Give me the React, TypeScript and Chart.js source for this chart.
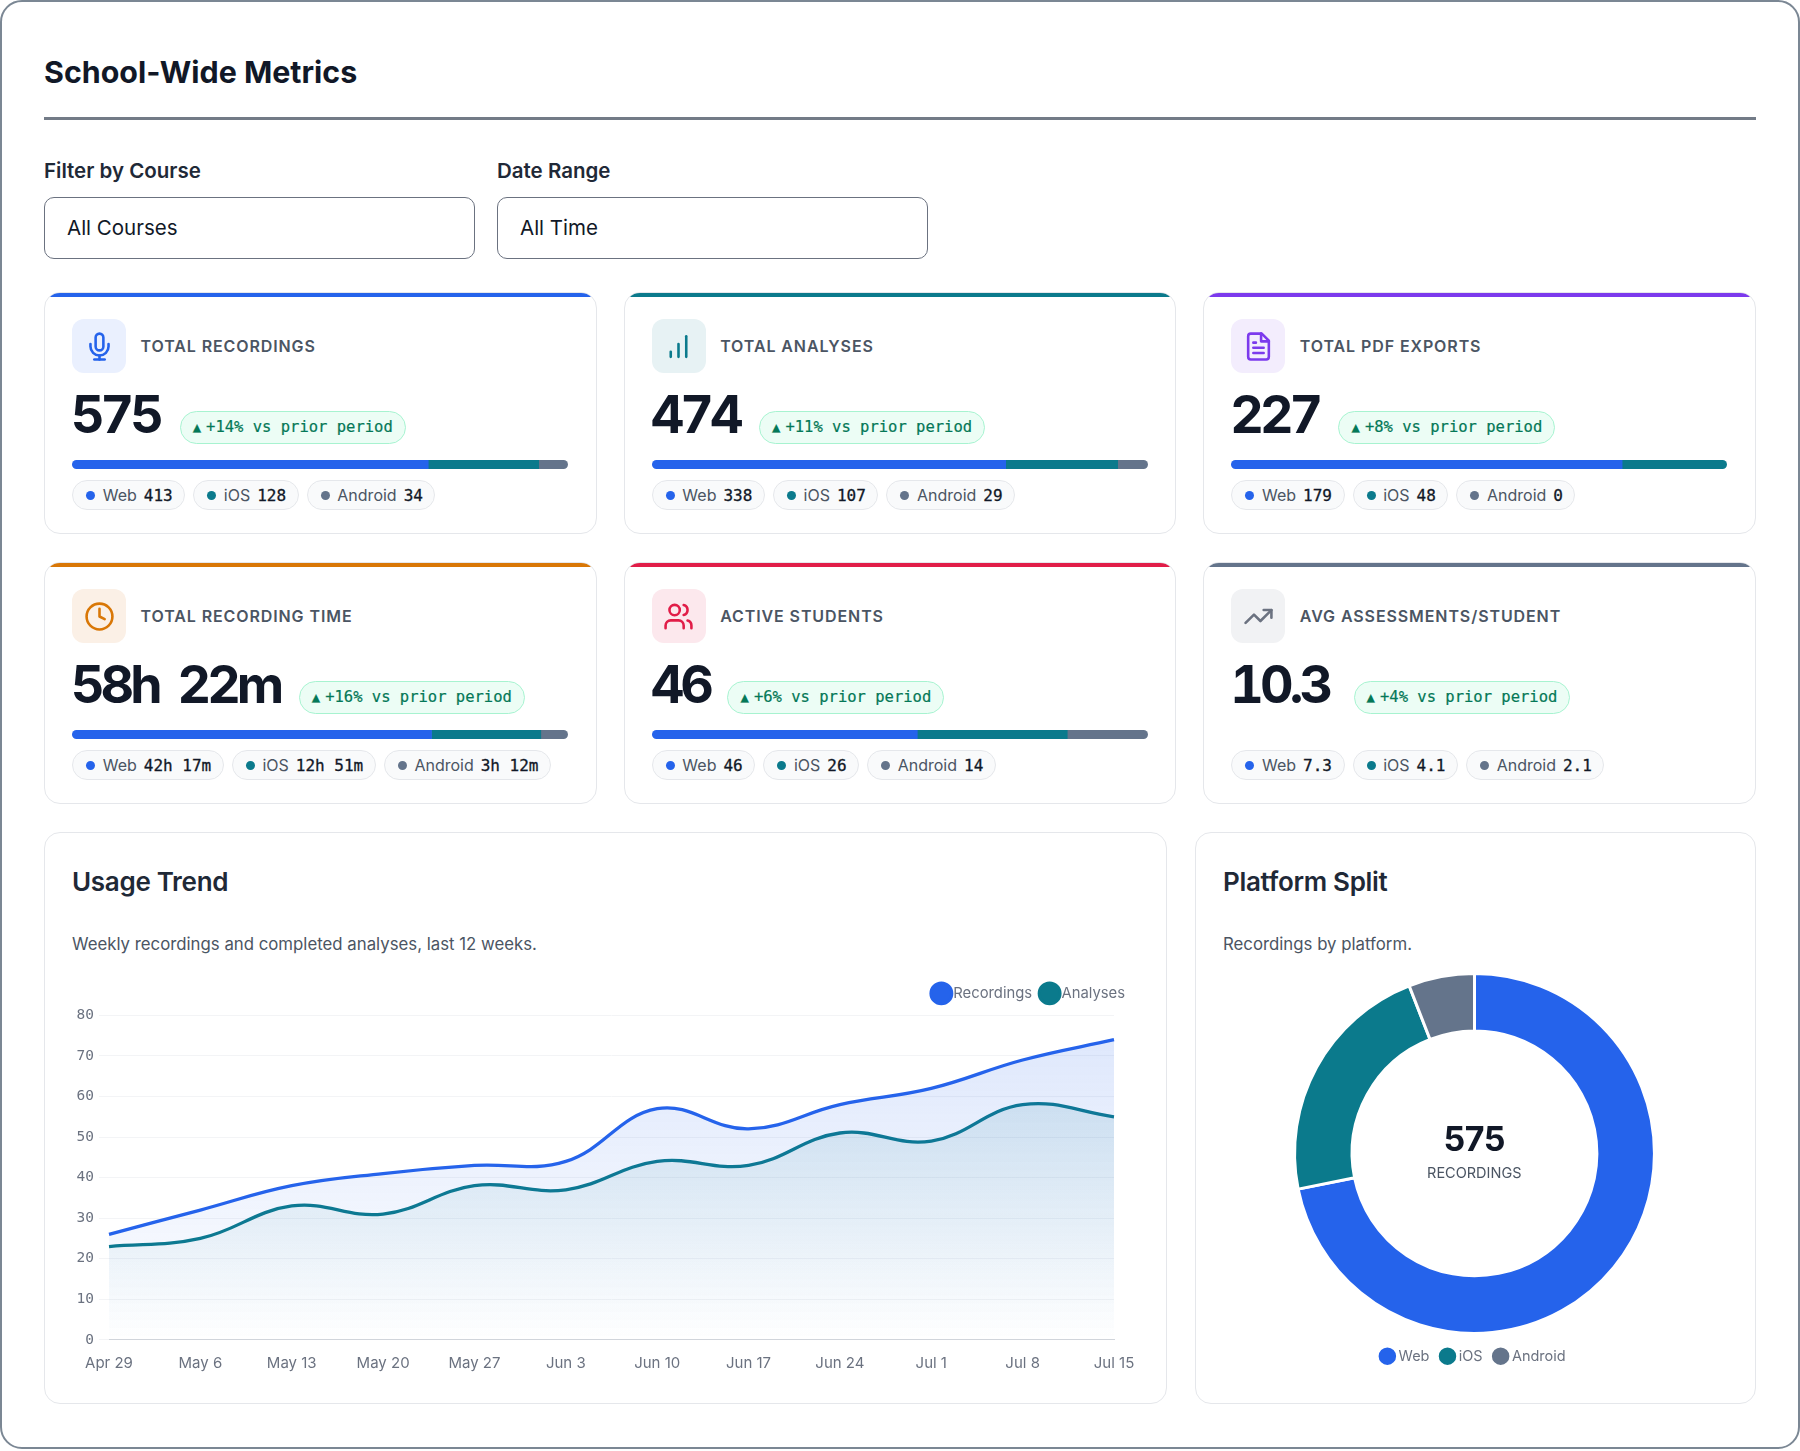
import { useEffect, useRef } from "react";
import { Chart, registerables } from "chart.js";

Chart.register(...registerables);

const BLUE = "#2563eb";
const TEAL = "#0b7a8c";
const SLATE = "#64748b";
const SANS = "Inter, sans-serif";
const MONO = "'DejaVu Sans Mono', monospace";

// metric cards
const cardTitles = ["TOTAL RECORDINGS", "TOTAL ANALYSES", "TOTAL PDF EXPORTS", "TOTAL RECORDING TIME", "ACTIVE STUDENTS", "AVG ASSESSMENTS/STUDENT"];
const cardValues = ["575", "474", "227", "58h 22m", "46", "10.3"];
const cardDeltas = ["+14%", "+11%", "+8%", "+16%", "+6%", "+4%"];
const cardAccents = [BLUE, TEAL, "#7c3aed", "#d97706", "#e11d48", SLATE];
const iconTints = ["#eaf0fe", "#e7f2f4", "#f3edfd", "#fbf0e6", "#fce8ed", "#f1f2f4"];
const iconColors = [BLUE, TEAL, "#7c3aed", "#d97706", "#e11d48", "#6b7280"];
const badgeGaps = [19.8, 19.5, 19.3, 18.5, 17.6, 24.4];

const webText = ["413", "338", "179", "42h 17m", "46", "7.3"];
const iosText = ["128", "107", "48", "12h 51m", "26", "4.1"];
const androidText = ["34", "29", "0", "3h 12m", "14", "2.1"];

// the stacked strip in each card, the avg card has none
const webShare = [413, 338, 179, 2537, 46, null];
const iosShare = [128, 107, 48, 771, 26, null];
const androidShare = [34, 29, 0, 192, 14, null];

// usage trend
const weeks = ["Apr 29", "May 6", "May 13", "May 20", "May 27", "Jun 3", "Jun 10", "Jun 17", "Jun 24", "Jul 1", "Jul 8", "Jul 15"];
const recordings = [26, 32, 38, 41, 43, 44, 57, 52, 58, 62, 69, 74];
const analyses = [23, 25, 33, 31, 38, 37, 44, 43, 51, 49, 58, 55];

// platform split
const platforms = ["Web", "iOS", "Android"];
const platformCounts = [413, 128, 34];
const platformColors = [BLUE, TEAL, SLATE];

const iconPaths = [
  <>
    <path d="M12 2a3 3 0 0 0-3 3v7a3 3 0 0 0 6 0V5a3 3 0 0 0-3-3Z" />
    <path d="M19 10v2a7 7 0 0 1-14 0v-2" />
    <line x1="12" x2="12" y1="19" y2="22" />
    <line x1="8" x2="16" y1="22" y2="22" />
  </>,
  <>
    <line x1="12" x2="12" y1="20" y2="10" />
    <line x1="18" x2="18" y1="20" y2="4" />
    <line x1="6" x2="6" y1="20" y2="16" />
  </>,
  <>
    <path d="M14.5 2H6a2 2 0 0 0-2 2v16a2 2 0 0 0 2 2h12a2 2 0 0 0 2-2V7.5L14.5 2z" />
    <polyline points="14 2 14 8 20 8" />
    <line x1="16" x2="8" y1="13" y2="13" />
    <line x1="16" x2="8" y1="17" y2="17" />
    <line x1="10" x2="8" y1="9" y2="9" />
  </>,
  <>
    <circle cx="12" cy="12" r="10" />
    <polyline points="12 6 12 12 16 14" />
  </>,
  <>
    <path d="M16 21v-2a4 4 0 0 0-4-4H6a4 4 0 0 0-4 4v2" />
    <circle cx="9" cy="7" r="4" />
    <path d="M22 21v-2a4 4 0 0 0-3-3.87" />
    <path d="M16 3.13a4 4 0 0 1 0 7.75" />
  </>,
  <>
    <polyline points="22 7 13.5 15.5 8.5 10.5 2 17" />
    <polyline points="16 7 22 7 22 13" />
  </>,
];

function SplitBar({ index }: { index: number }) {
  const canvasRef = useRef<HTMLCanvasElement | null>(null);

  useEffect(() => {
    if (!canvasRef.current) return;
    const shares = [webShare[index], iosShare[index], androidShare[index]] as number[];
    const chart = new Chart(canvasRef.current, {
      type: "bar",
      data: {
        labels: ["split"],
        datasets: platforms.map((name, i) => ({
          label: name,
          data: [shares[i]],
          backgroundColor: platformColors[i],
          barPercentage: 1,
          categoryPercentage: 1,
        })),
      },
      options: {
        indexAxis: "y",
        animation: false,
        responsive: false,
        events: [],
        plugins: { legend: { display: false }, tooltip: { enabled: false } },
        scales: {
          x: { display: false, stacked: true, min: 0, max: shares[0] + shares[1] + shares[2] },
          y: { display: false, stacked: true },
        },
      },
    });
    return () => chart.destroy();
  }, [index]);

  return (
    <div style={{ position: "absolute", left: 27, top: 167, width: 496, height: 9, borderRadius: 5, overflow: "hidden" }}>
      <canvas ref={canvasRef} width={496} height={9} style={{ display: "block" }} />
    </div>
  );
}

function Chip({ color, name, value }: { color: string; name: string; value: string }) {
  return (
    <div
      style={{
        display: "flex",
        alignItems: "center",
        height: 30,
        boxSizing: "border-box",
        padding: "0 11.5px 0 13px",
        border: "1.5px solid #e5e7eb",
        borderRadius: 15,
        background: "#f9fafb",
        fontSize: 16,
        color: "#4b5563",
        whiteSpace: "pre",
      }}
    >
      <span style={{ width: 9, height: 9, borderRadius: "50%", background: color, marginRight: 7.7 }} />
      <span>{name}</span>
      <span style={{ fontFamily: MONO, fontSize: 16, WebkitTextStroke: "0.3px #111827", color: "#111827", marginLeft: 7 }}>{value}</span>
    </div>
  );
}

function MetricCard({ index }: { index: number }) {
  return (
    <div style={{ position: "relative", height: 242, boxSizing: "border-box", border: "1.5px solid #e5e7eb", borderRadius: 16, overflow: "hidden", background: "#fff" }}>
      <div style={{ position: "absolute", left: 0, right: 0, top: 0, height: 4, background: cardAccents[index] }} />
      <div
        style={{
          position: "absolute",
          left: 27,
          top: 26,
          width: 54,
          height: 54,
          borderRadius: 12,
          background: iconTints[index],
          display: "flex",
          alignItems: "center",
          justifyContent: "center",
        }}
      >
        <svg width="31" height="31" viewBox="0 0 24 24" fill="none" stroke={iconColors[index]} strokeWidth="2" strokeLinecap="round" strokeLinejoin="round">
          {iconPaths[index]}
        </svg>
      </div>
      <div style={{ position: "absolute", left: 95.5, top: 43, fontSize: 16, lineHeight: "20px", fontWeight: 600, letterSpacing: 0.9, color: "#4b5563" }}>{cardTitles[index]}</div>
      <div style={{ position: "absolute", left: 26, top: 86.5, height: 70, display: "flex", alignItems: "center", gap: badgeGaps[index] }}>
        <span style={{ fontSize: 52, fontWeight: 700, letterSpacing: -4, wordSpacing: 9, fontVariantNumeric: "tabular-nums", color: "#111827", lineHeight: "70px" }}>{cardValues[index]}</span>
        <span
          style={{
            marginTop: 25,
            height: 33,
            boxSizing: "border-box",
            padding: "0 12px",
            display: "flex",
            alignItems: "center",
            border: "1.5px solid #a7f3d0",
            borderRadius: 17,
            background: "#ecfdf5",
            color: "#047857",
            fontFamily: MONO,
            fontSize: 15.5,
            WebkitTextStroke: "0.2px #047857",
            whiteSpace: "pre",
          }}
        >
          <span style={{ fontSize: 14, marginRight: 5 }}>▲</span>
          {cardDeltas[index]} vs prior period
        </span>
      </div>
      {webShare[index] !== null && <SplitBar index={index} />}
      <div style={{ position: "absolute", left: 27, top: 187, display: "flex", gap: 8 }}>
        <Chip color={BLUE} name="Web" value={webText[index]} />
        <Chip color={TEAL} name="iOS" value={iosText[index]} />
        <Chip color={SLATE} name="Android" value={androidText[index]} />
      </div>
    </div>
  );
}

// keeps the gap between the legend and the plot a bit larger than the default
const legendGap = {
  id: "legendGap",
  beforeInit(chart: any) {
    const fit = chart.legend.fit;
    chart.legend.fit = function () {
      fit.call(this);
      this.height += 4.6;
    };
  },
};

function TrendChart() {
  const canvasRef = useRef<HTMLCanvasElement | null>(null);

  useEffect(() => {
    if (!canvasRef.current) return;
    const fade = (rgb: string, top: number) => (ctx: any) => {
      const area = ctx.chart.chartArea;
      if (!area) return `rgba(${rgb},${top})`;
      const gradient = ctx.chart.ctx.createLinearGradient(0, area.top, 0, area.bottom);
      gradient.addColorStop(0, `rgba(${rgb},${top})`);
      gradient.addColorStop(1, `rgba(${rgb},0)`);
      return gradient;
    };
    const chart = new Chart(canvasRef.current, {
      type: "line",
      plugins: [legendGap],
      data: {
        labels: weeks,
        datasets: [
          { label: "Recordings", data: recordings, borderColor: BLUE, backgroundColor: fade("37,99,235", 0.16), borderWidth: 3.3, fill: "origin", tension: 0.4, pointRadius: 0 },
          { label: "Analyses", data: analyses, borderColor: TEAL, backgroundColor: fade("11,122,140", 0.16), borderWidth: 3.3, fill: "origin", tension: 0.4, pointRadius: 0 },
        ],
      },
      options: {
        animation: false,
        responsive: true,
        maintainAspectRatio: false,
        plugins: {
          tooltip: { enabled: false },
          legend: {
            position: "top",
            align: "end",
            labels: {
              usePointStyle: true,
              boxWidth: 9,
              padding: 13,
              color: "#6b7280",
              font: { family: SANS, size: 14.8 },
              generateLabels: (c: Chart) =>
                Chart.defaults.plugins.legend.labels.generateLabels(c).map((item: any) => ({ ...item, fillStyle: item.strokeStyle, lineWidth: 3 })),
            },
          },
        },
        scales: {
          x: {
            grid: { display: false },
            border: { color: "#d1d5db" },
            afterFit: (axis: any) => {
              axis.paddingRight = 24;
            },
            ticks: { color: "#6b7280", font: { family: SANS, size: 15 }, padding: 6.6, maxRotation: 0, autoSkip: false },
          },
          y: {
            min: 0,
            max: 80,
            grid: { color: "#f3f4f6", tickLength: 10 },
            border: { display: false },
            afterFit: (axis: any) => {
              axis.width = 37;
            },
            ticks: { stepSize: 10, color: "#6b7280", font: { family: MONO, size: 14.5 }, padding: 5 },
          },
        },
      },
    });
    return () => chart.destroy();
  }, []);

  return (
    <div style={{ position: "absolute", left: 27, top: 140, width: 1066, height: 406 }}>
      <canvas ref={canvasRef} />
    </div>
  );
}

function SplitChart() {
  const canvasRef = useRef<HTMLCanvasElement | null>(null);

  useEffect(() => {
    if (!canvasRef.current) return;
    const chart = new Chart(canvasRef.current, {
      type: "doughnut",
      data: {
        labels: platforms,
        datasets: [{ data: platformCounts, backgroundColor: platformColors, borderColor: "#fff", borderWidth: 3 }],
      },
      options: {
        animation: false,
        responsive: true,
        maintainAspectRatio: false,
        cutout: "68%",
        plugins: {
          tooltip: { enabled: false },
          legend: {
            position: "bottom",
            labels: { usePointStyle: true, boxWidth: 8, padding: 14, color: "#6b7280", font: { family: SANS, size: 14.5 } },
          },
        },
      },
    });
    return () => chart.destroy();
  }, []);

  return (
    <div style={{ position: "absolute", left: 25.8, top: 139, width: 505, height: 401.4 }}>
      <canvas ref={canvasRef} />
      <div style={{ position: "absolute", left: 0, right: 0, top: 146.5, textAlign: "center", fontSize: 34, lineHeight: "40px", fontWeight: 700, letterSpacing: -0.5, color: "#111827" }}>575</div>
      <div style={{ position: "absolute", left: 0, right: 0, top: 191, textAlign: "center", fontSize: 14.5, lineHeight: "20px", color: "#4b5563" }}>RECORDINGS</div>
    </div>
  );
}

function Panel({ title, note, children }: { title: string; note: string; children: React.ReactNode }) {
  return (
    <div style={{ position: "relative", height: 572, boxSizing: "border-box", border: "1.5px solid #e5e7eb", borderRadius: 16, background: "#fff" }}>
      <div style={{ position: "absolute", left: 27, top: 31, fontSize: 26, lineHeight: "36px", fontWeight: 600, letterSpacing: -0.3, color: "#1f2937" }}>{title}</div>
      <div style={{ position: "absolute", left: 27, top: 99, fontSize: 16.8, lineHeight: "24px", color: "#4b5563" }}>{note}</div>
      {children}
    </div>
  );
}

function Field({ label, value }: { label: string; value: string }) {
  return (
    <div style={{ width: 431 }}>
      <div style={{ fontSize: 20.5, lineHeight: "28px", fontWeight: 600, color: "#1f2937", height: 40.5, paddingTop: 0.5, boxSizing: "border-box" }}>{label}</div>
      <div
        style={{
          height: 62,
          boxSizing: "border-box",
          border: "1.5px solid #6b7280",
          borderRadius: 10,
          padding: "0 22px",
          display: "flex",
          alignItems: "center",
          fontSize: 20.5,
          color: "#111827",
        }}
      >
        {value}
      </div>
    </div>
  );
}

export default function App() {
  return (
    <div style={{ position: "absolute", left: 0, top: 0, width: 1800, height: 1451, background: "#fff", fontFamily: SANS }}>
      <div style={{ position: "absolute", left: 0, top: 0, width: 1800, height: 1449, boxSizing: "border-box", border: "2px solid #7b8794", borderRadius: 22 }} />
      <div style={{ position: "absolute", left: 44, top: 51, fontSize: 30.4, lineHeight: "42px", fontWeight: 700, color: "#111827" }}>School-Wide Metrics</div>
      <div style={{ position: "absolute", left: 44, top: 117, width: 1712, height: 3, background: "#737b87" }} />
      <div style={{ position: "absolute", left: 44, top: 156, display: "flex", gap: 22 }}>
        <Field label="Filter by Course" value="All Courses" />
        <Field label="Date Range" value="All Time" />
      </div>
      <div style={{ position: "absolute", left: 44, top: 292, width: 1712, display: "grid", gridTemplateColumns: "repeat(3, 1fr)", columnGap: 27, rowGap: 28 }}>
        {cardTitles.map((_, i) => (
          <MetricCard key={i} index={i} />
        ))}
      </div>
      <div style={{ position: "absolute", left: 44, top: 832, width: 1712, display: "grid", gridTemplateColumns: "1123px 561px", columnGap: 28 }}>
        <Panel title="Usage Trend" note="Weekly recordings and completed analyses, last 12 weeks.">
          <TrendChart />
        </Panel>
        <Panel title="Platform Split" note="Recordings by platform.">
          <SplitChart />
        </Panel>
      </div>
    </div>
  );
}
